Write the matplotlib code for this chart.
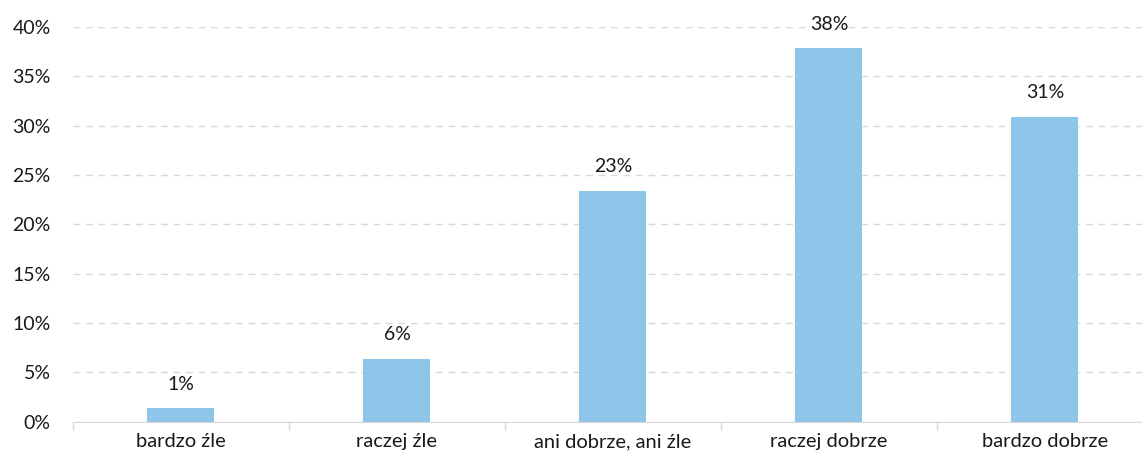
import numpy as np
import matplotlib.pyplot as plt
from matplotlib.ticker import FuncFormatter

categories = ["bardzo źle", "raczej źle", "ani dobrze, ani źle", "raczej dobrze", "bardzo dobrze"]
values = [1.4, 6.4, 23.4, 37.8, 30.9]
labels = ["1%", "6%", "23%", "38%", "31%"]

plt.rcParams['font.family'] = ['Lato', 'DejaVu Sans']

fig = plt.figure(figsize=(11.42, 4.61), dpi=100)
ax = fig.add_axes([0.0639, 0.085, 0.9457, 0.857])

x = np.arange(len(categories))
bars = ax.bar(x, values, width=0.31, color='#8FC5E9', zorder=3)

for b, lab in zip(bars, labels):
    ax.annotate(lab, (b.get_x() + b.get_width() / 2, b.get_height()),
                xytext=(0, 11), textcoords='offset points',
                ha='center', va='bottom', fontsize=14, color='#1a1a1a')

ax.set_xlim(-0.5, len(categories) - 0.5)
ax.set_ylim(0, 40)
ax.set_yticks(np.arange(0, 41, 5))
ax.yaxis.set_major_formatter(FuncFormatter(lambda v, p: f"{v:.0f}%"))
ax.grid(axis='y', color='#D9D9D9', linestyle=(0, (5, 4)), linewidth=1, zorder=0)

ax.set_xticks(x)
ax.set_xticklabels(categories)
ax.set_xticks(np.arange(-0.5, len(categories), 1), minor=True)
ax.tick_params(axis='x', which='major', length=0, pad=8, labelsize=14.5, labelcolor='#1a1a1a')
ax.tick_params(axis='x', which='minor', length=6, color='#D9D9D9', width=1)
ax.tick_params(axis='y', length=0, pad=16, labelsize=14, labelcolor='#1a1a1a')

for s in ['top', 'right', 'left']:
    ax.spines[s].set_visible(False)
ax.spines['bottom'].set_color('#D9D9D9')

fig.savefig('out.png', dpi=100)
